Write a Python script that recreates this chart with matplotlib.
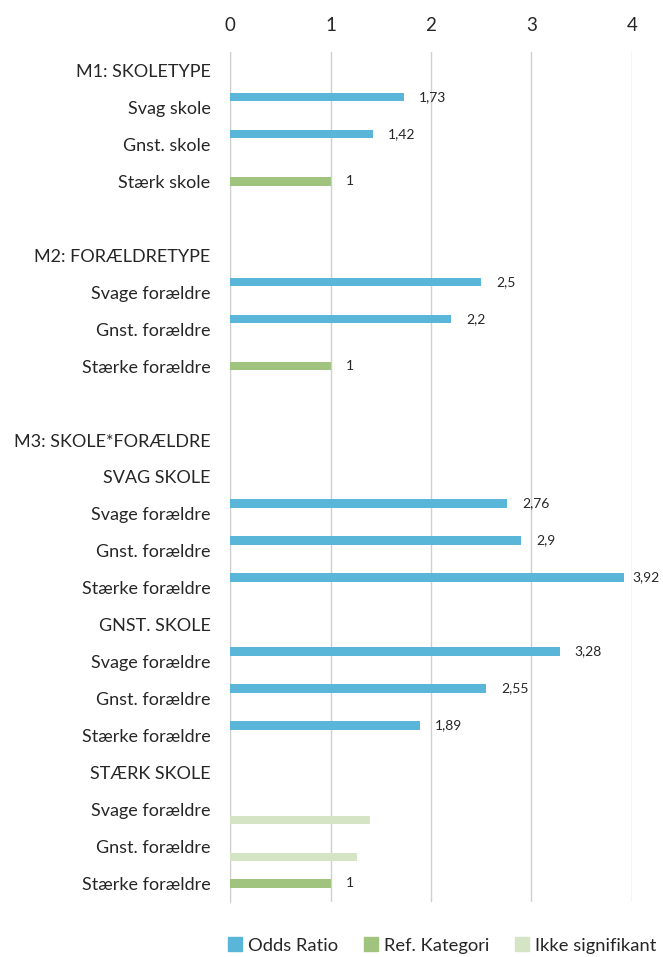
import numpy as np
import matplotlib.pyplot as plt
from matplotlib.patches import Patch

plt.rcParams['font.family'] = ['Lato', 'DejaVu Sans']

# kategorier fra top til bund (tomme strenge = mellemrum)
categories = [
    'M1: SKOLETYPE', 'Svag skole', 'Gnst. skole', 'Stærk skole', '',
    'M2: FORÆLDRETYPE', 'Svage forældre', 'Gnst. forældre', 'Stærke forældre', '',
    'M3: SKOLE*FORÆLDRE', 'SVAG SKOLE', 'Svage forældre', 'Gnst. forældre', 'Stærke forældre',
    'GNST. SKOLE', 'Svage forældre', 'Gnst. forældre', 'Stærke forældre',
    'STÆRK SKOLE', 'Svage forældre', 'Gnst. forældre', 'Stærke forældre',
]
nan = np.nan
odds_ratio = [nan, 1.73, 1.42, nan, nan,
              nan, 2.5, 2.2, nan, nan,
              nan, nan, 2.76, 2.9, 3.92,
              nan, 3.28, 2.55, 1.89,
              nan, nan, nan, nan]
ref_kategori = [nan, nan, nan, 1, nan,
                nan, nan, nan, 1, nan,
                nan, nan, nan, nan, nan,
                nan, nan, nan, nan,
                nan, nan, nan, 1]
ikke_signifikant = [nan, nan, nan, nan, nan,
                    nan, nan, nan, nan, nan,
                    nan, nan, nan, nan, nan,
                    nan, nan, nan, nan,
                    nan, 1.39, 1.26, nan]
series_names = ['Odds Ratio', 'Ref. Kategori', 'Ikke signifikant']
colors = ['#5AB6D8', '#A0C47D', '#D4E4C4']

fig = plt.figure(figsize=(6.63, 9.57), dpi=100)
ax = fig.add_axes([0.347, 0.0575, 0.606, 0.8882])

y = np.arange(len(categories))
h = 0.23
offsets = [-0.28, 0.0, 0.28]
all_series = [odds_ratio, ref_kategori, ikke_signifikant]

for vals, off, col in zip(all_series, offsets, colors):
    ax.barh(y + off, np.nan_to_num(vals), height=h, color=col, zorder=3)

# dataetiketter (kun Odds Ratio og Ref. Kategori)
for vals, off in zip(all_series[:2], offsets[:2]):
    for yi, v in zip(y, vals):
        if np.isnan(v):
            continue
        txt = f'{v:g}'.replace('.', ',')
        dx = 6 if v > 3.8 else 11
        ax.annotate(txt, (v, yi + off), xytext=(dx, 0), textcoords='offset points',
                    va='center', ha='left', fontsize=10, color='#262626')

ax.set_xlim(0, 4)
ax.set_ylim(len(categories) - 0.5, -0.5)
ax.set_xticks([0, 1, 2, 3, 4])
ax.xaxis.tick_top()
ax.tick_params(axis='x', length=0, pad=13, labelsize=13.5, colors='#262626')
ax.set_yticks(y)
ax.set_yticklabels(categories)
ax.tick_params(axis='y', length=0, pad=14, labelsize=13, colors='#262626')
ax.grid(axis='x', color='#cfcfcf', linewidth=1, zorder=0)
for s in ['top', 'right', 'bottom']:
    ax.spines[s].set_visible(False)
ax.spines['left'].set_color('#cfcfcf')

handles = [Patch(color=c, label=n) for c, n in zip(colors, series_names)]
fig.legend(handles=handles, loc='center', bbox_to_anchor=(0.667, 0.012), ncol=3,
           frameon=False, fontsize=13.2, handlelength=0.75, handleheight=0.75,
           handletextpad=0.35, columnspacing=1.4, labelcolor='#262626')

fig.savefig('out.png', dpi=100)
